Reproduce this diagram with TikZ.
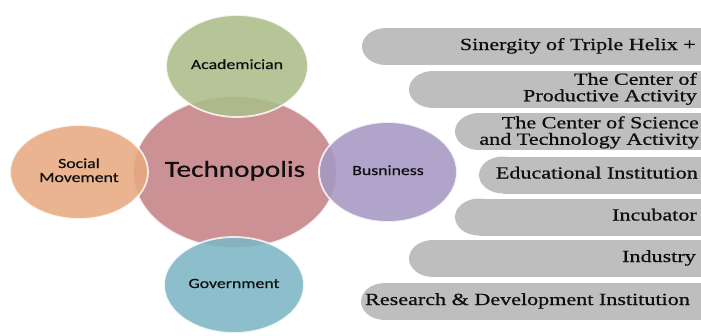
\documentclass[tikz,border=0pt]{standalone}
\usepackage{fontspec}
\usepackage{graphicx}
\setmainfont[FakeBold=0.7]{Liberation Serif}
\newfontfamily\circfont[FakeBold=0.5]{Carlito}
\usetikzlibrary{shapes.geometric}
\newcommand{\serifwide}[1]{\scalebox{1.3}[1]{\rmfamily\begin{tabular}{@{}r@{}}#1\end{tabular}}}
\newcommand{\sanswide}[1]{\scalebox{1.27}[1]{\begin{tabular}{@{}c@{}}#1\end{tabular}}}
\definecolor{cgreen}{RGB}{172,190,138}
\definecolor{crose}{RGB}{198,130,134}
\definecolor{corange}{RGB}{230,170,128}
\definecolor{cpurple}{RGB}{166,152,196}
\definecolor{cblue}{RGB}{126,182,198}
\definecolor{pillgray}{RGB}{190,190,190}
\definecolor{inktext}{RGB}{15,15,15}
\begin{document}
\begin{tikzpicture}[x=1pt,y=-1pt,
  blob/.style={ellipse, inner sep=0pt, fill opacity=0.88, text opacity=1,
    draw=white, draw opacity=0.8, line width=1.8pt,
    font=\circfont\fontsize{14}{15}\selectfont, text=inktext, align=center},
  pilltext/.style={anchor=east, inner sep=0pt,
    font=\rmfamily\fontsize{17}{17.5}\selectfont, text=inktext},
  pillfill/.style={fill=pillgray}]
\fill[white] (0,0) rectangle (701,335);
\useasboundingbox (0,0) rectangle (701,335);
\begin{scope}
\clip (0,0) rectangle (701,335);
% pills
\foreach \lx/\yc in {362/46.5, 409/89.5, 455/131.5, 479/175, 455/217, 409/258.5, 361/301.5}{
  \fill[pillfill] (\lx+24,\yc) ellipse [x radius=24, y radius=18.5];
  \fill[pillfill] (\lx+24,\yc-18.5) rectangle (715,\yc+18.5);
}
% circles
\node[blob, fill=crose, minimum width=204pt, minimum height=152pt] (techno) at (235,172) {};
\node[blob, fill=cgreen, minimum width=142pt, minimum height=102pt] (acad) at (237,66) {\sanswide{Academician}};
\node[blob, fill=corange, minimum width=138pt, minimum height=94pt] (social) at (79,172) {\sanswide{Social\\[-1pt]Movement}};
\node[blob, fill=cpurple, minimum width=138pt, minimum height=100pt] (bus) at (388,172) {\sanswide{Busniness}};
\node[blob, fill=cblue, minimum width=140pt, minimum height=96pt] (gov) at (234,285) {\sanswide{Government}};
\end{scope}
\node[font=\circfont\fontsize{23}{24}\selectfont, text=inktext, inner sep=0pt] (technotxt) at (235,172) {\sanswide{Technopolis}};
% pill texts
\node[pilltext] (t1) at (696,46.5) {\serifwide{Sinergity of Triple Helix +}};
\node[pilltext] (t2) at (697,89.5) {\serifwide{The Center of\\[-1pt]Productive Activity}};
\node[pilltext] (t3) at (699,133) {\serifwide{The Center of Science\\[-1pt]and Technology Activity}};
\node[pilltext] (t4) at (698,175) {\serifwide{Educational Institution}};
\node[pilltext] (t5) at (697,217) {\serifwide{Incubator}};
\node[pilltext] (t6) at (696,258.5) {\serifwide{Industry}};
\node[pilltext] (t7) at (690,301.5) {\serifwide{Research \& Development Institution}};
\end{tikzpicture}
\end{document}
